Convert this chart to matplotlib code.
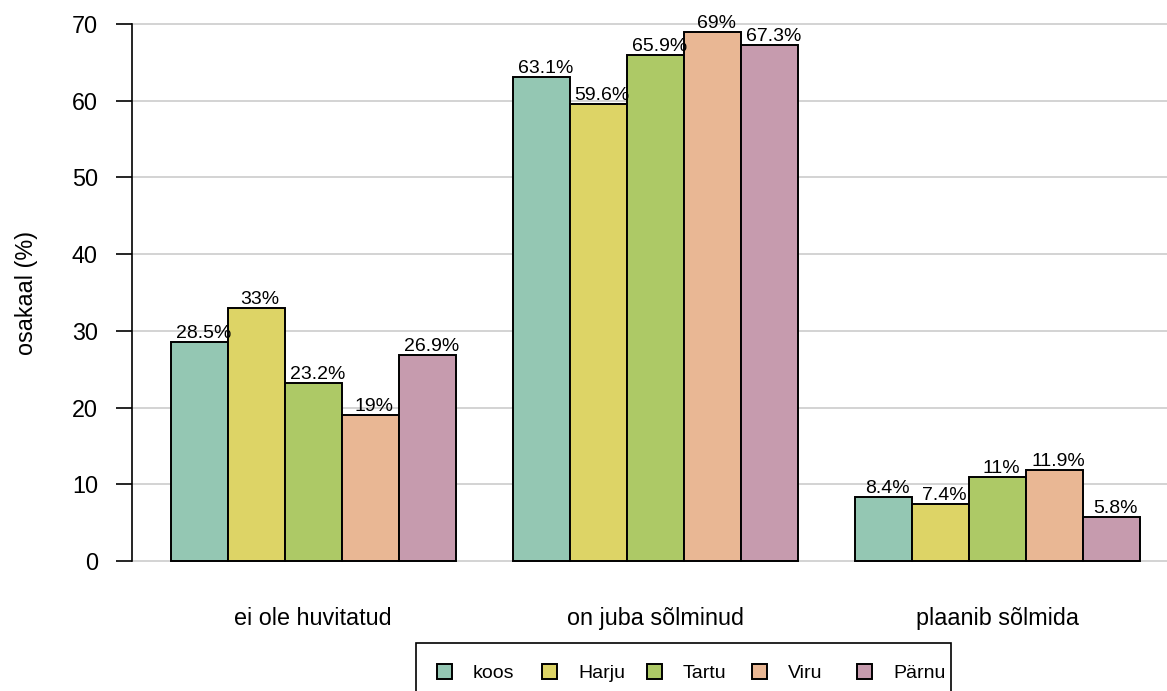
import matplotlib
matplotlib.use('Agg')
import matplotlib.pyplot as plt
import matplotlib.patches as mpatches

plt.rcParams['font.family'] = ['Liberation Sans', 'DejaVu Sans']

# data
categories = ['ei ole huvitatud', 'on juba sõlminud', 'plaanib sõlmida']
series = ['koos', 'Harju', 'Tartu', 'Viru', 'Pärnu']
values = [
    [28.5, 33, 23.2, 19, 26.9],      # ei ole huvitatud (koos..Pärnu)
    [63.1, 59.6, 65.9, 69, 67.3],    # on juba sõlminud
    [8.4, 7.4, 11, 11.9, 5.8],       # plaanib sõlmida
]
colors = ['#94C7B3', '#DDD466', '#ADC966', '#E9B794', '#C69BAE']
yticks = [0, 10, 20, 30, 40, 50, 60, 70]

W, H = 1167, 691
fig = plt.figure(figsize=(W / 100, H / 100), dpi=100)
# plot region like R barplot(beside=TRUE): bars start at 1, one bar gap between groups
ax = fig.add_axes([132 / W, (H - 582.5) / H, 1046.5 / W, 580 / H])

n = len(series)
centers = []
for g, cat in enumerate(categories):
    start = 1 + g * (n + 1)
    for j in range(n):
        v = values[g][j]
        ax.bar(start + j, v, width=1, align='edge', color=colors[j],
               edgecolor='black', linewidth=1.4, zorder=3)
        ax.text(start + j + 0.57, v, f'{v:g}%', ha='center', va='bottom',
                fontsize=14, color='black', zorder=4)
    centers.append(start + n / 2)

ax.set_xlim(0.32, 18.68)
ax.set_ylim(-2.8, 72.8)

ax.set_yticks(yticks)
ax.set_yticklabels([str(t) for t in yticks], fontsize=16.8)
ax.tick_params(axis='y', length=11.5, width=1.2, pad=13)
ax.yaxis.grid(True, color='#C8C8C8', linewidth=1.1, zorder=0)
ax.set_axisbelow(True)

ax.set_xticks(centers)
ax.set_xticklabels(categories, fontsize=16.8)
ax.tick_params(axis='x', length=0, pad=17.5)

for s in ['top', 'right', 'bottom']:
    ax.spines[s].set_visible(False)
ax.spines['left'].set_bounds(0, 70)
ax.spines['left'].set_linewidth(1.2)

ax.set_ylabel('osakaal (%)', fontsize=16.8)
ax.yaxis.set_label_coords(-0.09, 0.5)

# legend drawn R-style: equal column widths, box running off the bottom edge
px = lambda x, y: (x / W, 1 - y / H)
box = mpatches.Rectangle(px(416, 705), 535 / W, 62 / H, transform=fig.transFigure,
                         facecolor='white', edgecolor='black', linewidth=1.2)
fig.patches.append(box)
for j, (s, c) in enumerate(zip(series, colors)):
    x0 = 437 + j * 105
    sq = mpatches.Rectangle(px(x0, 679), 15 / W, 15 / H, transform=fig.transFigure,
                            facecolor=c, edgecolor='black', linewidth=1.4)
    fig.patches.append(sq)
    fig.text(*px(x0 + 36, 672), s, fontsize=14, ha='left', va='center_baseline')

fig.savefig('out.png', dpi=100)
